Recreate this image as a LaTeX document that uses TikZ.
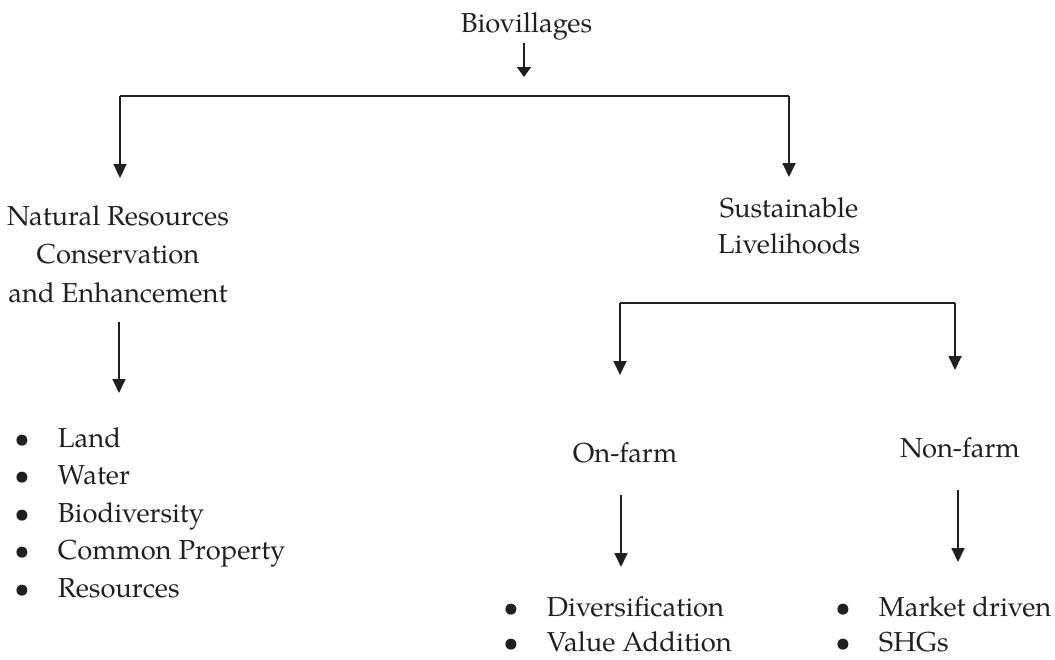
\documentclass[tikz,border=0pt]{standalone}
\usepackage{fontspec}
\setmainfont{TeX Gyre Pagella}
\usetikzlibrary{arrows.meta}
\definecolor{ink}{HTML}{231F20}
\newcommand\bl{\makebox[72pt][c]{\textbullet}}
\begin{document}
\begin{tikzpicture}[x=1pt,y=-1pt,
  txt/.style={inner sep=0pt,outer sep=0pt,text=ink,font=\fontsize{27.4}{37.5}\selectfont},
  lst/.style={txt,align=left},
  ctr/.style={txt,align=center},
  conn/.style={draw=ink,line width=1.8pt},
  bar/.style={draw=ink,line width=2.6pt},
  arr/.style={draw=ink,line width=1.8pt,-{Triangle[length=14pt,width=13pt]}},
  sarr/.style={draw=ink,line width=1.8pt,-{Triangle[length=10pt,width=14pt]}}]
\useasboundingbox (0,0) rectangle (1055,659);
% texts (multi-line nodes: base = baseline of last line)
\node[txt,anchor=base] (bio) at (526.5,32) {Biovillages};
\node[ctr,anchor=base,font=\fontsize{27.4}{38.5}\selectfont] (nat) at (118,302) {Natural Resources\\Conservation\\and Enhancement};
\node[ctr,anchor=base,font=\fontsize{27.4}{36}\selectfont] (sus) at (789,253) {Sustainable\\Livelihoods};
\node[txt,anchor=base] (on) at (625,462) {On-farm};
\node[txt,anchor=base] (non) at (960,457) {Non-farm};
\node[lst,anchor=base west] (natl) at (-14,597) {\bl Land\\\bl Water\\\bl Biodiversity\\\bl Common Property\\\bl Resources};
\node[lst,anchor=base west,font=\fontsize{27.4}{35}\selectfont] (onl) at (475,651) {\bl Diversification\\\bl Value Addition};
\node[lst,anchor=base west,font=\fontsize{27.4}{35}\selectfont] (nonl) at (807,651) {\bl Market driven\\\bl SHGs};
% connector points
\coordinate (bs) at (524,43);
\coordinate (bt) at (524,77);
\coordinate (hl) at (120,96);
\coordinate (hr) at (789,96);
\coordinate (tl) at (120,178);
\coordinate (tr) at (789,177);
\coordinate (ns) at (119,322);
\coordinate (nt) at (119,393);
\coordinate (sl) at (620,303);
\coordinate (sr) at (955,303);
\coordinate (slt) at (620,375);
\coordinate (srt) at (955,370);
\coordinate (os) at (621,495);
\coordinate (ot) at (621,567);
\coordinate (xs) at (958,490);
\coordinate (xt) at (958,562);
% connectors
\draw[sarr] (bs) -- (bt);
\draw[bar] (hl) -- (hr);
\draw[arr] (hl) -- (tl);
\draw[arr] (hr) -- (tr);
\draw[arr] (ns) -- (nt);
\draw[conn] (sl) -- (sr);
\draw[arr] (sl) -- (slt);
\draw[arr] (sr) -- (srt);
\draw[arr] (os) -- (ot);
\draw[arr] (xs) -- (xt);
\end{tikzpicture}
\end{document}
